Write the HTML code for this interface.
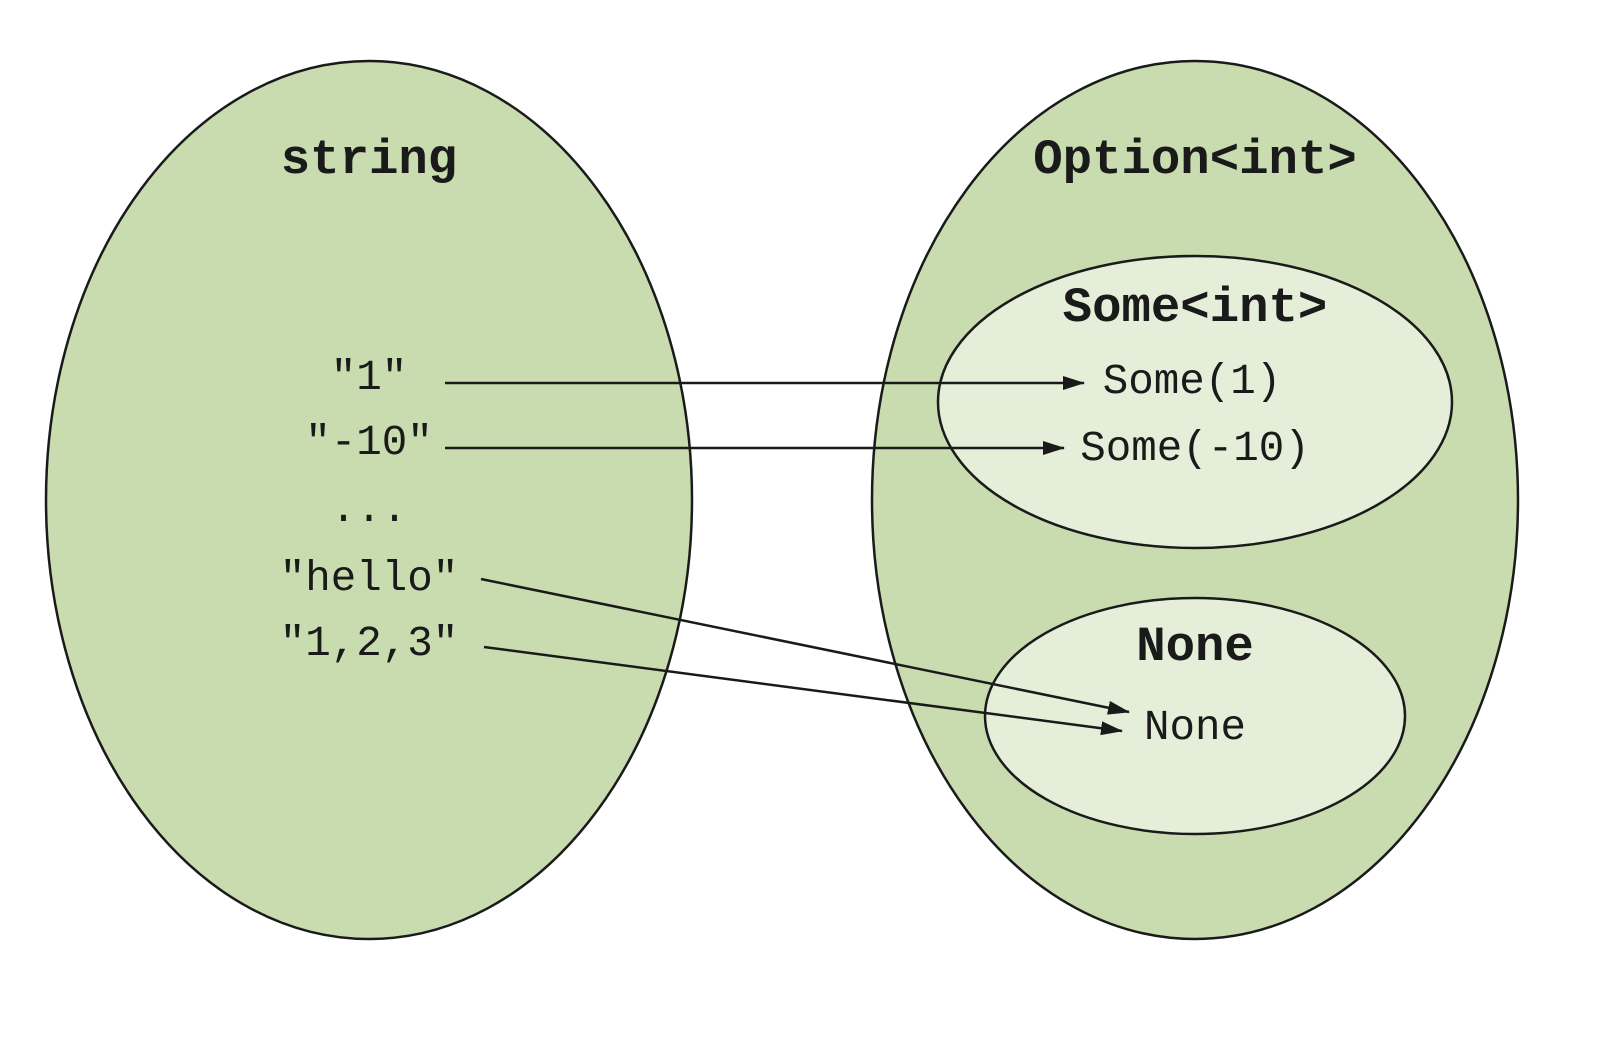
<!DOCTYPE html>
<html><head><meta charset="utf-8"><style>html,body{margin:0;padding:0;background:#fff}</style></head>
<body>
<svg width="1606" height="1042" viewBox="0 0 1606 1042" xmlns="http://www.w3.org/2000/svg">
<defs><marker id="a" markerWidth="22" markerHeight="14" refX="21" refY="7" orient="auto" markerUnits="userSpaceOnUse"><path d="M0,0 L22,7 L0,14 z" fill="#1a1a1a"/></marker></defs>
<g stroke="#1a1a1a" stroke-width="2.5">
<ellipse cx="369" cy="500" rx="323" ry="439" fill="#c9dcb0"/>
<ellipse cx="1195" cy="500" rx="323" ry="439" fill="#c9dcb0"/>
<ellipse cx="1195" cy="402" rx="257" ry="146" fill="#e4eed8"/>
<ellipse cx="1195" cy="716" rx="210" ry="118" fill="#e4eed8"/>
</g>
<g font-family="Liberation Mono, monospace" fill="#1a1a1a" text-anchor="middle">
<g font-weight="bold" font-size="49">
<text x="369" y="173">string</text>
<text x="1195" y="173">Option&lt;int&gt;</text>
<text x="1195" y="321">Some&lt;int&gt;</text>
<text x="1195" y="660">None</text>
</g>
<g font-size="42.5">
<text x="369" y="389">"1"</text>
<text x="369" y="454">"-10"</text>
<text x="369" y="521">...</text>
<text x="369" y="590">"hello"</text>
<text x="369" y="655">"1,2,3"</text>
<text x="1192" y="393">Some(1)</text>
<text x="1195" y="460">Some(-10)</text>
<text x="1195" y="739">None</text>
</g>
</g>
<g stroke="#1a1a1a" stroke-width="2.5" marker-end="url(#a)">
<line x1="445" y1="383" x2="1084" y2="383"/>
<line x1="445" y1="448" x2="1064" y2="448"/>
<line x1="481" y1="579" x2="1129" y2="712"/>
<line x1="484" y1="647" x2="1122" y2="731"/>
</g>
</svg>
</body></html>
